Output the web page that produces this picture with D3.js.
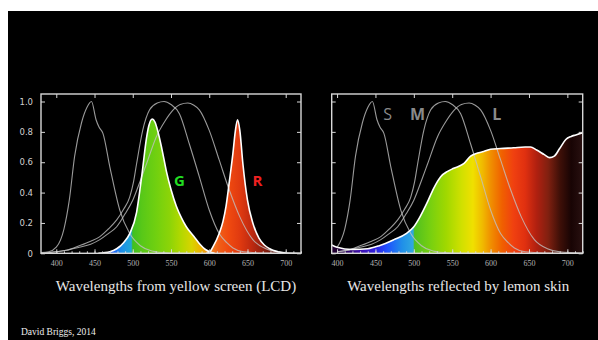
<!DOCTYPE html>
<html>
<head>
<meta charset="utf-8">
<script src="https://cdn.jsdelivr.net/npm/d3@7"></script>
<style>
  body { margin: 0; background: #fff; }
  svg { display: block; }
</style>
</head>
<body>
<div id="chart"></div>
<script>
// cone sensitivities [wavelength nm, relative value]
const coneS = [[380,0.005],[390,0.01],[400,0.04],[410,0.16],[417,0.35],[424,0.64],[433,0.86],[440,0.96],[446,1.0],[452,0.88],[456,0.83],[461,0.79],[470,0.57],[483,0.285],[496,0.13],[510,0.05],[525,0.015],[545,0.003],[570,0]];
const coneM = [[380,0],[400,0.01],[413,0.02],[430,0.05],[445,0.08],[457,0.11],[468,0.16],[479,0.22],[488,0.29],[496,0.37],[501,0.47],[505,0.59],[513,0.81],[522,0.945],[532,0.99],[541,1.0],[550,0.98],[561,0.92],[574,0.72],[587,0.505],[600,0.285],[613,0.13],[623,0.07],[631,0.035],[645,0.01],[670,0.002],[720,0]];
const coneL = [[380,0],[400,0.01],[413,0.02],[430,0.04],[445,0.06],[457,0.09],[468,0.13],[479,0.175],[490,0.26],[500,0.35],[510,0.48],[518,0.59],[531,0.77],[542,0.87],[552,0.94],[562,0.98],[572,0.99],[580,0.975],[587,0.945],[600,0.81],[613,0.615],[626,0.42],[640,0.24],[657,0.09],[674,0.03],[690,0.01],[720,0.002]];

// LCD emission peaks
const lcdG = [[455,0],[470,0.01],[479,0.03],[488,0.07],[496,0.13],[505,0.27],[512,0.52],[518,0.76],[521,0.84],[525.5,0.885],[529,0.865],[533,0.8],[538,0.69],[544,0.54],[550,0.42],[557,0.31],[564,0.23],[570,0.175],[580,0.11],[587,0.065],[595,0.025],[603,0.005],[607,0]];
const lcdR = [[596,0],[600,0.005],[605,0.044],[613,0.13],[618,0.21],[622,0.31],[626.5,0.48],[631,0.66],[634,0.8],[637,0.88],[640,0.81],[644,0.59],[650,0.35],[657,0.2],[665,0.1],[672,0.055],[679,0.03],[690,0.01],[702,0]];

// lemon reflectance
const lemon = [[393,0.055],[400,0.04],[420,0.025],[440,0.03],[455,0.05],[474,0.09],[490,0.13],[500,0.175],[508,0.24],[517,0.33],[526,0.43],[535,0.505],[544,0.54],[552,0.56],[565,0.59],[574,0.64],[583,0.66],[591,0.67],[600,0.685],[613,0.69],[630,0.695],[645,0.70],[652,0.70],[660,0.68],[670,0.65],[677,0.63],[683,0.64],[690,0.69],[698,0.75],[705,0.77],[711,0.78],[720,0.795]];

// spectrum colours
const spectrumLcd = [[450,'#2a1ad0'],[470,'#2050ff'],[485,'#1c8ee8'],[498,'#20a8d8'],[500,'#40c020'],[512,'#58c818'],[530,'#70d010'],[548,'#8cd408'],[562,'#b0d800'],[577,'#d8d400'],[590,'#f0b000'],[600,'#f08820'],[612,'#f06018'],[625,'#f04a10'],[640,'#e03a10'],[655,'#c02a10'],[670,'#902010'],[690,'#501008'],[705,'#300808']];
const spectrumLemon = [[400,'#200030'],[430,'#4010b0'],[450,'#3020e0'],[465,'#2050ff'],[485,'#2090e8'],[499,'#30a8e0'],[501,'#50c020'],[522,'#78d010'],[542,'#a0d800'],[562,'#d0e000'],[577,'#f0e000'],[590,'#f0b800'],[600,'#f09000'],[615,'#f06000'],[630,'#f04010'],[645,'#e03010'],[660,'#b02010'],[675,'#802010'],[690,'#401008'],[705,'#180404'],[720,'#281010']];

const xTicks = [400, 450, 500, 550, 600, 650, 700];
const yTicks = [0, 0.2, 0.4, 0.6, 0.8, 1.0];

const W = 598, H = 340;
const svg = d3.select('#chart').append('svg').attr('width', W).attr('height', H);
svg.append('rect').attr('x', 8).attr('y', 11).attr('width', W - 8).attr('height', H - 11).attr('fill', '#000');
const defs = svg.append('defs');

const y = d3.scaleLinear().domain([0, 1]).range([253.3, 101.5]);
const frameTop = 94;

function panel(opts) {
  const x = d3.scaleLinear().domain(opts.domain).range(opts.range);
  const g = svg.append('g');
  const line = d3.line().x(d => x(d[0])).y(d => y(d[1])).curve(d3.curveMonotoneX);
  const area = d3.area().x(d => x(d[0])).y0(y(0)).y1(d => y(d[1])).curve(d3.curveMonotoneX);

  // gradient along wavelength
  const grad = defs.append('linearGradient')
    .attr('id', opts.id)
    .attr('gradientUnits', 'userSpaceOnUse')
    .attr('x1', x(opts.domain[0])).attr('x2', x(opts.domain[1]))
    .attr('y1', 0).attr('y2', 0);
  const span = opts.domain[1] - opts.domain[0];
  grad.selectAll('stop').data(opts.spectrum).join('stop')
    .attr('offset', d => (d[0] - opts.domain[0]) / span)
    .attr('stop-color', d => d[1]);

  opts.fills.forEach(f => {
    g.append('path').datum(f).attr('d', area).attr('fill', `url(#${opts.id})`);
  });

  [coneS, coneM, coneL].forEach(c => {
    g.append('path').datum(c.filter(d => d[0] >= opts.domain[0]))
      .attr('d', line).attr('fill', 'none')
      .attr('stroke', '#c0c0c0').attr('stroke-opacity', 0.8).attr('stroke-width', 1.1);
  });

  opts.fills.forEach(f => {
    g.append('path').datum(f).attr('d', line)
      .attr('fill', 'none').attr('stroke', '#fff').attr('stroke-width', 1.6);
  });

  // frame
  const x0 = opts.range[0], x1 = opts.range[1];
  g.append('rect').attr('x', x0).attr('y', frameTop).attr('width', x1 - x0).attr('height', y(0) - frameTop)
    .attr('fill', 'none').attr('stroke', '#d8d8d8').attr('stroke-width', 1.4);

  // inner ticks
  const minor = d3.range(400, 721, 10);
  const tickStyle = sel => sel.call(s => s.select('.domain').remove())
    .selectAll('.tick line').attr('stroke', '#d8d8d8');
  g.append('g').attr('transform', `translate(0,${y(0)})`)
    .call(d3.axisBottom(x).tickValues(minor).tickSize(-2).tickFormat(''))
    .call(tickStyle);
  const xAxis = g.append('g').attr('transform', `translate(0,${y(0)})`)
    .call(d3.axisBottom(x).tickValues(xTicks).tickSize(-4).tickPadding(7));
  xAxis.call(tickStyle);
  g.append('g').attr('transform', `translate(0,${frameTop})`)
    .call(d3.axisTop(x).tickValues(xTicks).tickSize(-4).tickFormat(''))
    .call(tickStyle);
  const yAxis = g.append('g').attr('transform', `translate(${x0},0)`)
    .call(d3.axisLeft(y).tickValues(yTicks).tickSize(-4).tickPadding(8)
      .tickFormat(d => opts.yLabels ? (d === 0 ? '0' : d3.format('.1f')(d)) : ''));
  yAxis.call(tickStyle);
  g.append('g').attr('transform', `translate(${x1},0)`)
    .call(d3.axisRight(y).tickValues(yTicks).tickSize(-4).tickFormat(''))
    .call(tickStyle);

  xAxis.selectAll('.tick text').attr('fill', null).style('fill', '#b4b4b4')
    .style('font-family', '"Liberation Serif", serif').style('font-size', '8px');
  yAxis.selectAll('.tick text').attr('fill', null).style('fill', '#d0d0d0')
    .style('font-family', '"DejaVu Sans", sans-serif').style('font-size', '8.5px');

  g.append('text').attr('x', (x0 + x1) / 2 + opts.titleDx).attr('y', 291)
    .attr('text-anchor', 'middle').attr('fill', '#e6e6e6')
    .style('font-family', '"Liberation Serif", serif').style('font-size', '15px')
    .text(opts.title);

  opts.labels.forEach(l => {
    g.append('text').attr('x', x(l.wl)).attr('y', y(l.v))
      .attr('text-anchor', 'middle').attr('dominant-baseline', 'central')
      .attr('fill', l.color).style('font-weight', l.bold ? 'bold' : 'normal')
      .style('font-family', '"Open Sans", sans-serif').style('font-size', l.size + 'px')
      .text(l.text);
  });
}

panel({
  id: 'specLcd', domain: [380, 720], range: [41, 301], spectrum: spectrumLcd,
  fills: [lcdG, lcdR], yLabels: true, titleDx: 5,
  title: 'Wavelengths from yellow screen (LCD)',
  labels: [
    { text: 'G', wl: 561, v: 0.48, color: '#22dd22', bold: true, size: 15 },
    { text: 'R', wl: 663, v: 0.48, color: '#ee2020', bold: true, size: 15 }
  ]
});

panel({
  id: 'specLemon', domain: [393, 720], range: [331.7, 582.7], spectrum: spectrumLemon,
  fills: [lemon], yLabels: false, titleDx: 1,
  title: 'Wavelengths reflected by lemon skin',
  labels: [
    { text: 'S', wl: 466, v: 0.92, color: '#8a8a8a', bold: false, size: 16 },
    { text: 'M', wl: 505, v: 0.92, color: '#8a8a8a', bold: true, size: 16 },
    { text: 'L', wl: 608, v: 0.92, color: '#8a8a8a', bold: true, size: 16 }
  ]
});

svg.append('text').attr('x', 21).attr('y', 335).attr('fill', '#eee')
  .style('font-family', '"Liberation Serif", serif').style('font-size', '9.5px')
  .text('David Briggs, 2014');
</script>
</body>
</html>
